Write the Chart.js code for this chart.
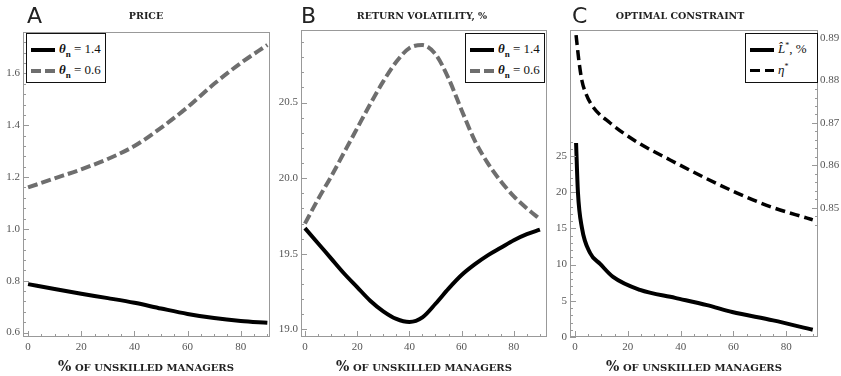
<!DOCTYPE html>
<html>
<head>
<meta charset="utf-8">
<script src="https://cdn.jsdelivr.net/npm/chart.js@4.4.1/dist/chart.umd.min.js"></script>
<style>
  html, body { margin: 0; padding: 0; background: #fff; }
  #wrap { position: relative; width: 841px; height: 376px; overflow: hidden; }
  canvas { position: absolute; top: 0; }
  .letter { position: absolute; top: 3px; font: 22px "DejaVu Sans", sans-serif; color: #222; }
  .title, .xtitle { position: absolute; font-family: "DejaVu Serif", serif; font-weight: bold; color: #222;
    font-size: 9.5px; white-space: nowrap; transform: translateX(-50%); }
  .title { top: 10px; }
  .xtitle { top: 358px; font-size: 10px; }
  .xtitle span { font-size: 14px; }
  .legend { position: absolute; border: 1.3px solid #111; background: #fff; box-sizing: border-box;
    font: 13px "Liberation Serif", "Times New Roman", serif; color: #111; padding: 5px 4px; }
  .legend .row { display: flex; align-items: center; height: 21px; }
  .legend .smp { width: 24px; margin-right: 4px; flex: none; }
  .legend sub { font-size: 9px; }
</style>
</head>
<body>
<div id="wrap">
  <canvas id="cA" width="280" height="376" style="left:0"></canvas>
  <canvas id="cB" width="278" height="376" style="left:272px"></canvas>
  <canvas id="cC" width="291" height="376" style="left:550px"></canvas>

  <div class="letter" style="left:27px">A</div>
  <div class="letter" style="left:301px">B</div>
  <div class="letter" style="left:572px">C</div>

  <div class="title" style="left:146px">PRICE</div>
  <div class="title" style="left:422px">RETURN VOLATILITY, %</div>
  <div class="title" style="left:680px">OPTIMAL CONSTRAINT</div>

  <div class="xtitle" style="left:146px"><span>%</span> OF UNSKILLED MANAGERS</div>
  <div class="xtitle" style="left:424px"><span>%</span> OF UNSKILLED MANAGERS</div>
  <div class="xtitle" style="left:694px"><span>%</span> OF UNSKILLED MANAGERS</div>

  <div class="legend" id="legA" style="left:26px;top:33px;width:80px;height:50px"></div>
  <div class="legend" id="legB" style="left:465px;top:33px;width:80px;height:50px"></div>
  <div class="legend" id="legC" style="left:745px;top:33px;width:73px;height:50px"></div>
</div>
<script>
// ---- data ----
const xTicks = [0, 20, 40, 60, 80];

// Panel A: price
const priceX = [0, 10, 20, 30, 40, 50, 60, 70, 80, 90];
const priceTheta14 = [0.787, 0.768, 0.750, 0.733, 0.715, 0.693, 0.672, 0.656, 0.645, 0.638];
const priceTheta06 = [1.16, 1.195, 1.23, 1.27, 1.32, 1.39, 1.47, 1.56, 1.64, 1.71];
const priceTicks = [0.6, 0.8, 1.0, 1.2, 1.4, 1.6];

// Panel B: return volatility, %
const volX = [0, 5, 10, 15, 20, 25, 30, 35, 40, 45, 50, 55, 60, 65, 70, 75, 80, 85, 90];
const volTheta14 = [19.67, 19.57, 19.47, 19.37, 19.28, 19.19, 19.12, 19.07, 19.05, 19.08, 19.17, 19.27, 19.36, 19.43, 19.49, 19.54, 19.59, 19.63, 19.66];
const volTheta06 = [19.70, 19.86, 20.01, 20.17, 20.33, 20.49, 20.64, 20.77, 20.86, 20.88, 20.82, 20.66, 20.45, 20.25, 20.10, 19.98, 19.88, 19.80, 19.73];
const volTicks = [19.0, 19.5, 20.0, 20.5];

// Panel C: optimal constraint
const lStarX = [0.4, 1.1, 2.6, 5.7, 9.5, 14.4, 24.6, 37.9, 50, 59.5, 75, 90];
const lStar = [26.8, 20.0, 15.1, 11.6, 10.1, 8.3, 6.5, 5.4, 4.4, 3.45, 2.3, 1.0];
const etaX = [0.4, 1.5, 2.6, 4.2, 6.8, 13.3, 23.5, 36, 48.5, 61.4, 73.9, 87.9, 90];
const eta = [0.8907, 0.8845, 0.8800, 0.8768, 0.8738, 0.8700, 0.8655, 0.8613, 0.8573, 0.8535, 0.8503, 0.8476, 0.8472];
const lStarTicks = [0, 5, 10, 15, 20, 25];
const etaTicks = [0.85, 0.86, 0.87, 0.88, 0.89];

const legendA = ['<i><b>θ</b></i><sub><b>n</b></sub>&nbsp;= 1.4', '<i><b>θ</b></i><sub><b>n</b></sub>&nbsp;= 0.6'];
const legendC = ['<i>L̂</i><sup style="font-size:8px">*</sup>, %', '<i>η</i><sup style="font-size:8px">*</sup>'];

// ---- helpers ----
const pts = (xs, ys) => xs.map((x, i) => ({ x, y: ys[i] }));
const tickFont = { family: "'Liberation Serif', 'Times New Roman', serif", size: 11 };
const tickColor = '#555';

// frame + inward major/minor ticks, like the original
const frameTicks = {
    id: 'frameTicks',
    afterDraw(chart, args, opts) {
        const { ctx, chartArea: a } = chart;
        ctx.save();
        ctx.strokeStyle = '#999';
        ctx.lineWidth = 1;
        ctx.strokeRect(a.left + 0.5, a.top + 0.5, a.width - 1, a.height - 1);
        (opts.axes || []).forEach(ax => {
            const s = chart.scales[ax.id];
            const draw = (v, len) => {
                const p = Math.round(s.getPixelForValue(v)) + 0.5;
                ctx.beginPath();
                if (s.position === 'bottom') { ctx.moveTo(p, a.bottom); ctx.lineTo(p, a.bottom - len); }
                else if (s.position === 'left') { ctx.moveTo(a.left, p); ctx.lineTo(a.left + len, p); }
                else { ctx.moveTo(a.right, p); ctx.lineTo(a.right - len, p); }
                ctx.stroke();
            };
            const lo = ax.lo !== undefined ? ax.lo : s.min;
            const hi = ax.hi !== undefined ? ax.hi : s.max;
            const n0 = Math.ceil(lo / ax.minor - 1e-6), n1 = Math.floor(hi / ax.minor + 1e-6);
            for (let n = n0; n <= n1; n++) draw(n * ax.minor, 3);
            s.ticks.forEach(t => draw(t.value, 6));
        });
        ctx.restore();
    }
};

function xScale(min, max) {
    return {
        type: 'linear', min, max,
        afterBuildTicks: s => { s.ticks = xTicks.map(v => ({ value: v })); },
        afterFit: s => { s.height = 39; },
        grid: { display: false, drawTicks: false },
        border: { display: false },
        ticks: { padding: 4, font: tickFont, color: tickColor, maxRotation: 0 }
    };
}

function yScale(min, max, ticks, dec, width, pos) {
    return {
        type: 'linear', min, max, position: pos || 'left',
        afterBuildTicks: s => { s.ticks = ticks.map(v => ({ value: v })); },
        afterFit: s => { s.width = width; },
        grid: { display: false, drawTicks: false },
        border: { display: false },
        ticks: { padding: pos === 'right' ? 2 : 3, font: tickFont, color: tickColor, callback: v => v.toFixed(dec) }
    };
}

function line(label, data, color, width, dash, axis) {
    return {
        label, data, borderColor: color, borderWidth: width, borderDash: dash || [],
        pointRadius: 0, fill: false, cubicInterpolationMode: 'monotone', yAxisID: axis || 'y'
    };
}

function baseOptions(scales, pad, axes) {
    return {
        responsive: false, animation: false,
        layout: { padding: pad },
        plugins: { legend: { display: false }, tooltip: { enabled: false }, frameTicks: { axes } },
        scales
    };
}

function mkLegend(el, chart, labels) {
    el.innerHTML = chart.data.datasets.map((d, i) => {
        const c = d.borderColor, w = d.borderWidth;
        const bg = d.borderDash.length
            ? `repeating-linear-gradient(90deg, ${c} 0 ${d.borderDash[0]}px, transparent ${d.borderDash[0]}px ${d.borderDash[0] + d.borderDash[1]}px)`
            : c;
        return `<div class="row"><div class="smp" style="height:${w}px;background:${bg}"></div><div>${labels[i]}</div></div>`;
    }).join('');
}

// ---- Panel A ----
const chA = new Chart(document.getElementById('cA'), {
    type: 'line',
    data: { datasets: [
        line('θn = 1.4', pts(priceX, priceTheta14), '#000', 4),
        line('θn = 0.6', pts(priceX, priceTheta06), '#6e6e6e', 4, [10, 4])
    ] },
    options: baseOptions({
        x: xScale(-1.9, 91),
        y: yScale(0.583, 1.76, priceTicks, 1, 23)
    }, { top: 32, right: 10, left: 0, bottom: 0 },
    [{ id: 'x', minor: 5, lo: 0, hi: 90 }, { id: 'y', minor: 0.04 }]),
    plugins: [frameTicks]
});

// ---- Panel B ----
const chB = new Chart(document.getElementById('cB'), {
    type: 'line',
    data: { datasets: [
        line('θn = 1.4', pts(volX, volTheta14), '#000', 4),
        line('θn = 0.6', pts(volX, volTheta06), '#6e6e6e', 4, [10, 4])
    ] },
    options: baseOptions({
        x: xScale(-1.5, 92.7),
        y: yScale(18.95, 20.98, volTicks, 1, 29)
    }, { top: 30, right: 3, left: 0, bottom: 0 },
    [{ id: 'x', minor: 5, lo: 0, hi: 90 }, { id: 'y', minor: 0.1 }]),
    plugins: [frameTicks]
});

// ---- Panel C ----
const chC = new Chart(document.getElementById('cC'), {
    type: 'line',
    data: { datasets: [
        line('L*, %', pts(lStarX, lStar), '#000', 4),
        line('η*', pts(etaX, eta), '#000', 3.5, [10, 5], 'y2')
    ] },
    options: baseOptions({
        x: xScale(-1.9, 92),
        y: yScale(0, 42.4, lStarTicks, 0, 20),
        y2: yScale(0.8196, 0.8919, etaTicks, 2, 23, 'right')
    }, { top: 30, right: 0, left: 0, bottom: 0 },
    [{ id: 'x', minor: 5, lo: 0, hi: 90 }, { id: 'y', minor: 1, lo: 0, hi: 27 }, { id: 'y2', minor: 0.002, lo: 0.846, hi: 0.891 }]),
    plugins: [frameTicks]
});

mkLegend(document.getElementById('legA'), chA, legendA);
mkLegend(document.getElementById('legB'), chB, legendA);
mkLegend(document.getElementById('legC'), chC, legendC);
</script>
</body>
</html>
